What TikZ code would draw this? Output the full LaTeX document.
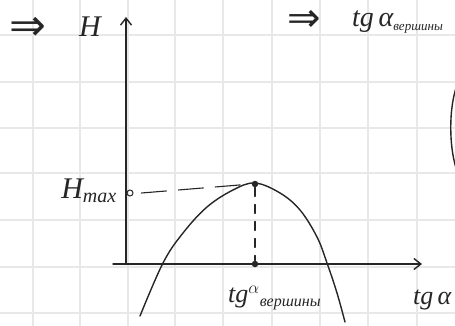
\documentclass[tikz,border=0pt]{standalone}
\usepackage{fontspec}
\usepackage{amsmath}
\setmainfont{Liberation Serif}
\newfontfamily\symfont{DejaVu Sans}
\usetikzlibrary{arrows.meta}
\begin{document}
\begin{tikzpicture}[x=1pt,y=-1pt,
  ink/.style={draw=black!85, line width=1.4pt, line cap=round},
  gridline/.style={draw=black!9, line width=1.8pt},
  axisarrow/.style={ink,-{Straight Barb[length=7pt,width=11pt]}},
  hand/.style={font=\fontsize{24}{28}\selectfont\itshape, text=black!85, inner sep=0pt},
  implies/.style={font=\symfont\fontsize{44}{46}\selectfont, text=black!85, inner sep=0pt},
  dotmark/.style={circle, fill=black!85, inner sep=0pt, minimum size=6.5pt},
  ringmark/.style={circle, draw=black!85, line width=1pt, inner sep=0pt, minimum size=6pt}]
\clip (0,0) rectangle (455,326);
\fill[white] (0,0) rectangle (455,326);
% grid
\foreach \gx in {33,80,128,175,223,272,320,368,417}
  \draw[gridline] (\gx,0) -- (\gx,326);
\foreach \gy in {35,82,128,173,220,267,313}
  \draw[gridline] (0,\gy) -- (455,\gy);
% axes
\coordinate (O) at (126,264);
\coordinate (ytop) at (126,17);
\coordinate (xleft) at (113,264);
\coordinate (xend) at (422,264);
\draw[axisarrow] (O) -- (ytop);
\draw[axisarrow] (xleft) -- (xend);
% parabola
\draw[ink] plot[smooth, tension=0.6] coordinates {(140,316) (163,263) (183,233) (207,207) (233,190) (255,183) (280,193) (300,210) (317,237) (327,263) (337,293) (345,322)};
% marks
\node[dotmark] (peak) at (255,184) {};
\node[dotmark] (foot) at (255,264) {};
\node[ringmark] (hm) at (130,193) {};
\draw[ink, line width=1.1pt, dash pattern=on 25pt off 12pt] (hm.east) ++(8,0) coordinate (hmd) (hmd) -- (peak.west);
\draw[ink, line width=1.1pt, dash pattern=on 9pt off 8pt] (peak.south) -- (foot.north);
% labels
\node[implies] (imp1) at (28,29) {⇒};
\node[hand, font=\fontsize{30}{32}\selectfont\itshape] (H) at (90,27) {H};
\node[implies, font=\symfont\fontsize{40}{42}\selectfont] (imp2) at (304,21) {⇒};
\node[hand, anchor=west, font=\fontsize{28}{30}\selectfont\itshape] (tgtop) at (352,22) {tg\,α\textsubscript{\fontsize{13}{14}\selectfont вершины}};
\node[hand, anchor=east, font=\fontsize{30}{32}\selectfont\itshape] (Hmax) at (117,191) {H\textsubscript{\fontsize{20}{22}\selectfont max}};
\node[hand, anchor=west, font=\fontsize{26}{28}\selectfont\itshape] (tgv) at (228,298) {tg$^{\alpha}$\textsubscript{\fontsize{16}{17}\selectfont вершины}};
\node[hand, anchor=west, font=\fontsize{26}{28}\selectfont\itshape] (tgx) at (413,300) {tg\,α};
% arc at right edge
\draw[ink] (456,88) .. controls (449,110) and (449,145) .. (456,168);
\end{tikzpicture}
\end{document}
